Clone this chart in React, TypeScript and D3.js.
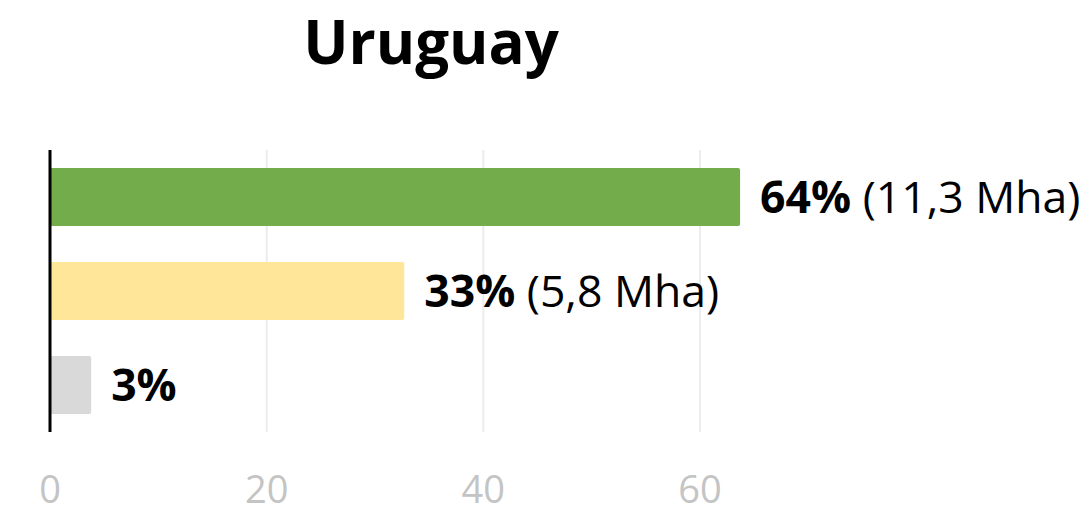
import React from "react";
import * as d3 from "d3";

const categories = ["Natural", "Agricultura", "Otros"];
const values = [63.7, 32.7, 3.8];
const pctLabels = ["64%", "33%", "3%"];
const areaLabels = ["(11,3 Mha)", "(5,8 Mha)", ""];
const colors = ["#72ac4b", "#ffe699", "#d9d9d9"];
const ticks = [0, 20, 40, 60];
const title = "Uruguay";

const W = 1088;
const H = 513;
const FONT = "'Open Sans', 'Noto Sans', sans-serif";

export default function App() {
  const x = d3.scaleLinear().domain([0, 60]).range([50, 700]);
  const y = d3
    .scaleBand<string>()
    .domain(categories)
    .range([150, 432])
    .paddingInner(0.383)
    .paddingOuter(0.19);

  return (
    <svg
      width={W}
      height={H}
      style={{ position: "absolute", left: 0, top: 0, background: "#fff" }}
    >
      <text
        x={431}
        y={64}
        textAnchor="middle"
        fontFamily={FONT}
        fontWeight={700}
        fontSize={60}
        fill="#000"
      >
        {title}
      </text>

      {/* gridlines */}
      {ticks.slice(1).map((t) => (
        <line
          key={t}
          x1={x(t)}
          x2={x(t)}
          y1={150}
          y2={432}
          stroke="#ececec"
          strokeWidth={2}
        />
      ))}

      {/* bars */}
      {categories.map((c, i) => (
        <rect
          key={c}
          x={x(0)}
          y={y(c)}
          width={x(values[i]) - x(0)}
          height={y.bandwidth()}
          rx={2}
          fill={colors[i]}
        />
      ))}

      {/* value labels */}
      {categories.map((c, i) => (
        <text
          key={c}
          x={x(values[i]) + 20}
          y={(y(c) ?? 0) + y.bandwidth() / 2}
          dy="0.36em"
          fontFamily={FONT}
          fontSize={44.5}
          fill="#000"
        >
          <tspan fontWeight={700}>{pctLabels[i]}</tspan>
          {areaLabels[i] ? <tspan> {areaLabels[i]}</tspan> : null}
        </text>
      ))}

      {/* axis line */}
      <line x1={x(0)} x2={x(0)} y1={150} y2={432} stroke="#000" strokeWidth={3} />

      {/* tick labels */}
      {ticks.map((t) => (
        <text
          key={t}
          x={x(t)}
          y={503}
          textAnchor="middle"
          fontFamily={FONT}
          fontSize={38}
          fill="#c4c4c4"
        >
          {t}
        </text>
      ))}
    </svg>
  );
}
